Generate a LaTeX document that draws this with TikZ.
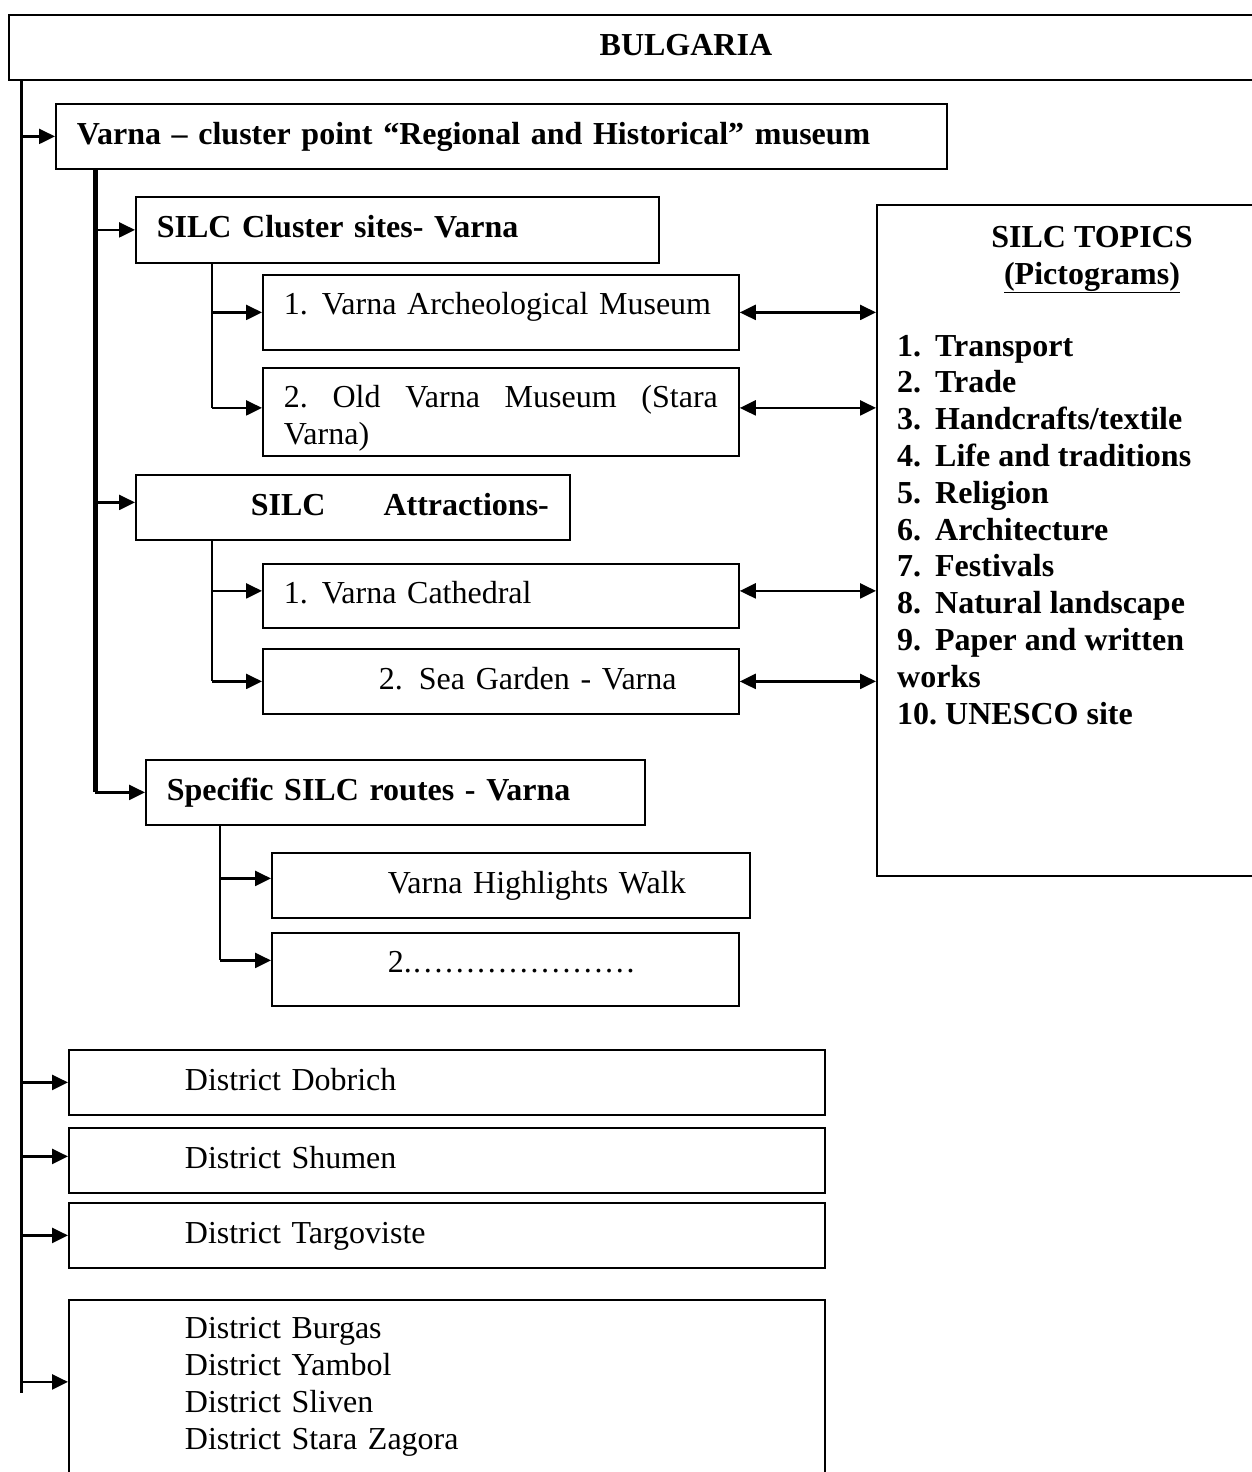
\documentclass[tikz,border=0pt]{standalone}
\usepackage{fontspec}
\setmainfont{Liberation Serif}
\usetikzlibrary{arrows.meta}
\tikzset{
  box/.style={draw, line width=1.8pt, anchor=north west, inner xsep=21pt, inner ysep=0pt, align=left, text height=23pt, text depth=7pt, font=\fontsize{32}{36.8}\selectfont},
  boldbox/.style={box, font=\fontsize{32}{36.8}\selectfont\bfseries},
  plain/.style={inner sep=0pt, font=\fontsize{32}{36.8}\selectfont\bfseries},
  spine/.style={line width=3pt},
  heavy/.style={line width=5pt},
  link/.style={line width=2.4pt},
  arr/.style={link, -{Triangle[length=16pt,width=15pt]}},
  darr/.style={link, {Triangle[length=16pt,width=15pt]}-{Triangle[length=16pt,width=15pt]}},
}
\begin{document}
\begin{tikzpicture}[x=1pt,y=1pt,yscale=-1,xscale=1]
\useasboundingbox (0,0) rectangle (1251,1472);
% header and cluster point
\node[boldbox, minimum width=1354pt, minimum height=65pt] (bulg) at (8,14) {BULGARIA};
\node[boldbox, text width=849pt, minimum height=65pt] (varna) at (55,103) {Varna – cluster point “Regional and Historical” museum};
% sites
\node[boldbox, text width=481pt, minimum height=66pt] (cluster) at (135,196) {SILC Cluster sites- Varna};
\node[box, text width=434pt, minimum height=75pt, text depth=18pt] (arch) at (262,274) {\makebox[38pt][l]{1.}Varna Archeological Museum};
\node[box, text width=434pt, minimum height=88pt, text depth=31pt] (oldv) at (262,367) {2.\hfill Old\hfill Varna\hfill Museum\hfill (Stara\\Varna)};
% attractions
\node[boldbox, text width=392pt, minimum height=65pt] (attr) at (135,474) {\hspace*{94pt}\mbox{SILC\hspace{58pt}Attractions-}};
\node[box, text width=434pt, minimum height=64pt] (cath) at (262,563) {\makebox[38pt][l]{1.}Varna Cathedral};
\node[box, text width=434pt, minimum height=65pt] (sea) at (262,648) {\hspace*{95pt}2. Sea Garden - Varna};
% routes
\node[boldbox, text width=457pt, minimum height=65pt] (routes) at (145,759) {Specific SILC routes - Varna};
\node[box, text width=436pt, minimum height=65pt] (walk) at (271,852) {\hspace*{95pt}Varna Highlights Walk};
\node[box, text width=425pt, minimum height=73pt, text depth=16pt] (dots) at (271,932) {\hspace*{95pt}2.…………………};
% districts
\node[box, text width=714pt, minimum height=65pt] (dob) at (68,1049) {\hspace*{95pt}District Dobrich};
\node[box, text width=714pt, minimum height=65pt] (shum) at (68,1127) {\hspace*{95pt}District Shumen};
\node[box, text width=714pt, minimum height=65pt] (targ) at (68,1202) {\hspace*{95pt}District Targoviste};
\node[box, text width=714pt, minimum height=190pt, text depth=135pt] (south) at (68,1299) {\hspace*{95pt}District Burgas\\\hspace*{95pt}District Yambol\\\hspace*{95pt}District Sliven\\\hspace*{95pt}District Stara Zagora};
% topics
\node[box, minimum width=432pt, minimum height=671pt] (topics) at (876,204) {};
\node[plain, align=center, anchor=base] (tophead) at (1092,284) {SILC TOPICS\\\underline{(Pictograms)}};
\node[plain, align=left, anchor=base west] (toplist) at (897,724) {\makebox[38pt][l]{1.}Transport\\\makebox[38pt][l]{2.}Trade\\\makebox[38pt][l]{3.}Handcrafts/textile\\\makebox[38pt][l]{4.}Life and traditions\\\makebox[38pt][l]{5.}Religion\\\makebox[38pt][l]{6.}Architecture\\\makebox[38pt][l]{7.}Festivals\\\makebox[38pt][l]{8.}Natural landscape\\\makebox[38pt][l]{9.}Paper and written\\works\\\makebox[48pt][l]{10.}UNESCO site};
% main spine
\coordinate (stop) at (21,79);
\coordinate (sbot) at (21,1393);
\draw[spine] (stop) -- (sbot);
\draw[arr] (stop |- varna.west) -- (varna.west);
\draw[arr] (stop |- dob.west) -- (dob.west);
\draw[arr] ([yshift=-4pt]stop |- shum.west) -- ([yshift=-4pt]shum.west);
\draw[arr] (stop |- targ.west) -- (targ.west);
\draw[arr] ([yshift=-13pt]stop |- south.west) -- ([yshift=-13pt]south.west);
% varna spine
\coordinate (vtop) at ([xshift=40pt]varna.south west);
\draw[heavy] (vtop) -- (vtop |- routes.west);
\draw[arr] (vtop |- cluster.west) -- (cluster.west);
\draw[arr] ([yshift=-5pt]vtop |- attr.west) -- ([yshift=-5pt]attr.west);
\draw[arr] (vtop |- routes.west) -- (routes.west);
% branches
\coordinate (c1) at ([xshift=77pt]cluster.south west);
\draw[link] (c1) -- ([yshift=-4pt]c1 |- oldv.west);
\draw[arr] (c1 |- arch.west) -- (arch.west);
\draw[arr] ([yshift=-4pt]c1 |- oldv.west) -- ([yshift=-4pt]oldv.west);
\coordinate (c2) at ([xshift=77pt]attr.south west);
\draw[link] (c2) -- (c2 |- sea.west);
\draw[arr] ([yshift=-5pt]c2 |- cath.west) -- ([yshift=-5pt]cath.west);
\draw[arr] (c2 |- sea.west) -- (sea.west);
\coordinate (c3) at ([xshift=75pt]routes.south west);
\draw[link] (c3) -- ([yshift=-9pt]c3 |- dots.west);
\draw[arr] ([yshift=-7pt]c3 |- walk.west) -- ([yshift=-7pt]walk.west);
\draw[arr] ([yshift=-9pt]c3 |- dots.west) -- ([yshift=-9pt]dots.west);
% links to topics
\draw[darr] (arch.east) -- (arch.east -| topics.west);
\draw[darr] ([yshift=-4pt]oldv.east) -- ([yshift=-4pt]oldv.east -| topics.west);
\draw[darr] ([yshift=-5pt]cath.east) -- ([yshift=-5pt]cath.east -| topics.west);
\draw[darr] (sea.east) -- (sea.east -| topics.west);
\end{tikzpicture}
\end{document}
